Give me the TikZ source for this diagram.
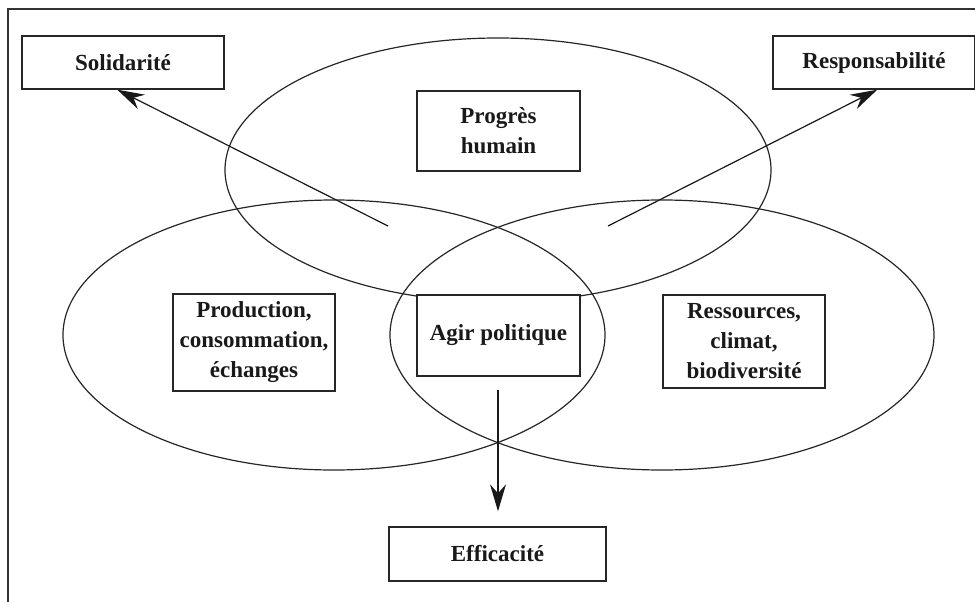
\documentclass[tikz,border=0pt]{standalone}
\usepackage{fontspec}
\setmainfont{Liberation Serif}
\usetikzlibrary{arrows.meta,calc}
\begin{document}
\begin{tikzpicture}[x=1pt,y=-1pt,
  lbox/.style={draw=black!85,line width=1.4pt,fill=white,align=center,inner sep=0pt,
    font=\fontsize{23}{30}\selectfont\bfseries,text=black!90},
  ell/.style={draw=black!85,line width=1.2pt},
  arr/.style={draw=black!90,line width=1.2pt,-{Stealth[length=27pt,width=16pt,inset=9pt]}}]
\useasboundingbox (0,0) rectangle (975,602);
\clip (0,0) rectangle (975,602);
\draw[draw=black!80,line width=1.5pt] (8,9) rectangle (990,620);
% ellipses
\draw[ell] (498,170) ellipse [x radius=273, y radius=132];
\draw[ell] (334,335) ellipse [x radius=271, y radius=135];
\draw[ell] (662,335) ellipse [x radius=272, y radius=135];
% boxes
\node[lbox,minimum width=202,minimum height=53] (sol) at (123,62.5) {Solidarité};
\node[lbox,minimum width=202,minimum height=53] (resp) at (874,62.5) {Responsabilité};
\node[lbox,minimum width=163,minimum height=80] (prog) at (498.5,131) {Progrès\\humain};
\node[lbox,minimum width=163,minimum height=81] (agir) at (498.5,335.5) {Agir politique};
\node[lbox,minimum width=162,minimum height=97] (prod) at (254,342.5) {Production,\\consommation,\\échanges};
\node[lbox,minimum width=162,minimum height=93] (res) at (744,341.5) {Ressources,\\climat,\\biodiversité};
\node[lbox,minimum width=217,minimum height=54] (eff) at (497.5,554) {Efficacité};
% arrows
\coordinate (a1) at (388,226);
\coordinate (a2) at (608,226);
\coordinate (a3) at (498,390);
\draw[arr] (a1) -- ([xshift=96pt]sol.south west);
\draw[arr] (a2) -- ([xshift=105pt]resp.south west);
\draw[arr] (a3) -- ([yshift=15pt]eff.north -| a3);
\end{tikzpicture}
\end{document}
